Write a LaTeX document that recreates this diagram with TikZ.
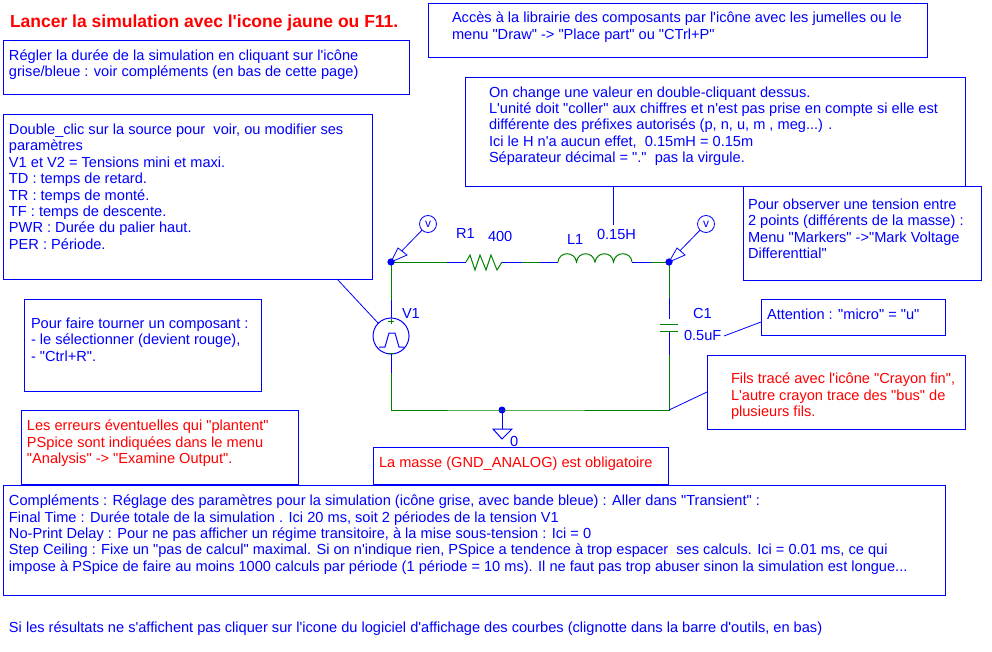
\documentclass[tikz,border=0pt]{standalone}
\usepackage{fontspec}
\newfontfamily\af{Liberation Sans}
\definecolor{pblue}{RGB}{0,0,255}
\definecolor{pgreen}{RGB}{0,128,0}
\definecolor{pred}{RGB}{255,0,0}
\newcommand{\st}{\rule{0pt}{10pt}}
\tikzset{
 panel/.style={draw=pblue,line width=1pt,rectangle,anchor=north west,inner sep=0,outer sep=0},
 note/.style={anchor=north west,inner sep=0,outer sep=0,align=left,text=pblue,font=\af\fontsize{14.6}{16.4}\selectfont},
 warn/.style={note,text=pred},
 lab/.style={inner sep=0,outer sep=0,anchor=base west,text=pblue,font=\af\fontsize{14.6}{16}\selectfont},
 wgreen/.style={draw=pgreen,line width=1pt},
 wblue/.style={draw=pblue,line width=1pt},
 lead/.style={draw=pblue,line width=0.8pt},
 dotn/.style={circle,fill=pblue,inner sep=0,outer sep=0,minimum size=7pt},
 probe/.style={circle,draw=pblue,line width=0.8pt,inner sep=0,outer sep=0,minimum size=17pt,text=pblue,font=\af\fontsize{12}{12}\selectfont},
 srcn/.style={circle,draw=pblue,line width=1pt,inner sep=0,outer sep=0,minimum size=36pt},
}
\begin{document}
\begin{tikzpicture}[x=1pt,y=-1pt]
\useasboundingbox (0,0) rectangle (992,652);
\fill[white] (0,0) rectangle (992,652);
% panels
\node[panel,minimum width=406pt,minimum height=54pt] (b1) at (3,41) {};
\node[panel,minimum width=499pt,minimum height=54pt] (b2) at (428,4) {};
\node[panel,minimum width=500pt,minimum height=109pt] (b3) at (465,78) {};
\node[panel,minimum width=369pt,minimum height=164pt] (b4) at (3,115) {};
\node[panel,minimum width=238pt,minimum height=93pt] (b5) at (743,187) {};
\node[panel,minimum width=237pt,minimum height=92pt] (b6) at (24,299) {};
\node[panel,minimum width=277pt,minimum height=74pt] (b7) at (21,410) {};
\node[panel,minimum width=184pt,minimum height=36pt] (b8) at (761,299) {};
\node[panel,minimum width=258pt,minimum height=74pt] (b9) at (707,355) {};
\node[panel,minimum width=295pt,minimum height=37pt] (b10) at (373,447) {};
\node[panel,minimum width=942pt,minimum height=110pt] (b11) at (3,485) {};
% texts
\node[note,text=pred,font=\af\bfseries\fontsize{17.5}{20}\selectfont] (title) at (10,14.5) {\st Lancer la simulation avec l'icone jaune ou F11.};
\node[note] (t1) at (9,49.5) {\st Régler la durée de la simulation en cliquant sur l'icône\\grise/bleue : voir compléments (en bas de cette page)};
\node[note] (t2) at (452,12) {\st Accès à la librairie des composants par l'icône avec les jumelles ou le\\menu "Draw" -> "Place part" ou "CTrl+P"};
\node[note] (t3) at (489,86.5) {\st On change une valeur en double-cliquant dessus.\\L'unité doit "coller" aux chiffres et n'est pas prise en compte si elle est\\différente des préfixes autorisés (p, n, u, m , meg...) .\\Ici le H n'a aucun effet,~ 0.15mH = 0.15m\\Séparateur décimal = "."~ pas la virgule.};
\node[note] (t4) at (9,124) {\st Double\_clic sur la source pour~ voir, ou modifier ses\\paramètres\\V1 et V2 = Tensions mini et maxi.\\TD : temps de retard.\\TR : temps de monté.\\TF : temps de descente.\\PWR : Durée du palier haut.\\PER : Période.};
\node[note] (t5) at (748,199) {\st Pour observer une tension entre\\2 points (différents de la masse) :\\Menu "Markers" ->"Mark Voltage\\Differenttial"};
\node[note] (t6) at (31,318) {\st Pour faire tourner un composant :\\- le sélectionner (devient rouge),\\- "Ctrl+R".};
\node[warn] (t7) at (27,420) {\st Les erreurs éventuelles qui "plantent"\\PSpice sont indiquées dans le menu\\"Analysis" -> "Examine Output".};
\node[note] (t8) at (767,309) {\st Attention : "micro" = "u"};
\node[warn] (t9) at (731,373) {\st Fils tracé avec l'icône "Crayon fin",\\L'autre crayon trace des "bus" de\\plusieurs fils.};
\node[warn] (t10) at (379,457) {\st La masse (GND\_ANALOG) est obligatoire};
\node[note] (t11) at (9,495) {\st Compléments : Réglage des paramètres pour la simulation (icône grise, avec bande bleue) : Aller dans "Transient" :\\Final Time : Durée totale de la simulation . Ici 20 ms, soit 2 périodes de la tension V1\\No-Print Delay : Pour ne pas afficher un régime transitoire, à la mise sous-tension : Ici = 0\\Step Ceiling : Fixe un "pas de calcul" maximal. Si on n'indique rien, PSpice a tendence à trop espacer~ ses calculs. Ici = 0.01 ms, ce qui\\impose à PSpice de faire au moins 1000 calculs par période (1 période = 10 ms). Il ne faut pas trop abuser sinon la simulation est longue...};
\node[note] (t12) at (9,622) {\st Si les résultats ne s'affichent pas cliquer sur l'icone du logiciel d'affichage des courbes (clignotte dans la barre d'outils, en bas)};
% circuit nodes
\node[dotn] (nA) at (391,262) {};
\node[dotn] (nB) at (669,262) {};
\node[dotn] (nG) at (502,410) {};
\node[srcn] (src) at (391,336) {};
\coordinate (cBL) at (391,410);
\coordinate (cBR) at (669,410);
\coordinate (r1) at (447,262); \coordinate (r2) at (466,262);
\coordinate (r3) at (502,262); \coordinate (r4) at (522,262);
\coordinate (l0) at (540,262); \coordinate (l1) at (558,262);
\coordinate (l2) at (632,262); \coordinate (l3) at (651,262);
\coordinate (s1) at (391,300); \coordinate (s2) at (391,373);
\coordinate (c1) at (669,298); \coordinate (c2) at (669,319);
\coordinate (c3) at (669,324); \coordinate (c4) at (669,331);
\coordinate (c5) at (669,355);
% wires
\draw[wgreen] (nA.center) -- (r1);
\draw[wblue] (r1) -- (r2);
\draw[wgreen] (r2) -- (470,255) -- (475,270) -- (480,255) -- (486,270) -- (491,255) -- (497,270) -- (r3);
\draw[wblue] (r3) -- (r4);
\draw[wgreen] (r4) -- (l0);
\draw[wblue] (l0) -- (l1);
\draw[wgreen] (l1) .. controls (559,251) and (575,251) .. (576.5,262)
  .. controls (578,251) and (593,251) .. (595,262)
  .. controls (597,251) and (612,251) .. (613.5,262)
  .. controls (615,251) and (631,251) .. (l2);
\draw[wblue] (l2) -- (l3);
\draw[wgreen] (l3) -- (nB.center);
\draw[wgreen] (nA.center) -- (s1);
\draw[wblue] (s1) -- (src.north);
\draw[wblue] (src.south) -- (s2);
\draw[wgreen] (s2) -- (cBL) -- (nG.center) -- (cBR) -- (c5);
\draw[wblue] (c5) -- (c4);
\draw[wgreen] (nB.center) -- (c1);
\draw[wblue] (c1) -- (c2);
\draw[wgreen] (660,324) -- (678,324);
\draw[wgreen] (660,331) -- (678,331);
% source symbol
\draw[wblue] (379,347) -- (385,347) -- (389,333) -- (395,333) -- (399,347) -- (404,347);
\draw[draw=pgreen,line width=0.8pt] (388,321.5) -- (394,321.5) (391,319) -- (391,324);
\draw[draw=pgreen,line width=0.8pt] (388.5,353) -- (393.5,353);
% ground
\coordinate (gnd) at (502,429);
\draw[wblue] (nG.center) -- (gnd);
\draw[wblue,line join=miter] (493,429) -- (512,429) -- (502,439) -- cycle;
% probes
\node[probe] (p1) at (428,224) {v};
\node[probe] (p2) at (706,224) {v};
\draw[lead] (p1) -- (nA.center);
\draw[lead] (p2) -- (nB.center);
\draw[lead,fill=white] (nA.center) -- (398,248) -- (407,255) -- cycle;
\draw[lead,fill=white] (nB.center) -- (677,248) -- (685,255) -- cycle;
\node[dotn] at (nA) {};
\node[dotn] at (nB) {};
% labels
\node[lab] (lR) at (456,238) {R1};
\node[lab] (lRv) at (488,241) {400};
\node[lab] (lL) at (567,244) {L1};
\node[lab] (lLv) at (597,240) {0.15H};
\node[lab] (lV) at (402,318) {V1};
\node[lab] (lC) at (693,318) {C1};
\node[lab] (lCv) at (684,340) {0.5uF};
\node[lab] (lG) at (510,446) {0};
% leaders
\coordinate (d3) at (613,225);
\draw[lead] (b3.south -| d3) -- (d3);
\coordinate (d4) at (337,279);
\draw[lead] (d4) -- (src.north west);
\coordinate (d8) at (724,336);
\coordinate (e8) at (761,322);
\draw[lead] (e8) -- (d8);
\coordinate (e9) at (707,392);
\draw[lead] (e9) -- (cBR);
\end{tikzpicture}
\end{document}
